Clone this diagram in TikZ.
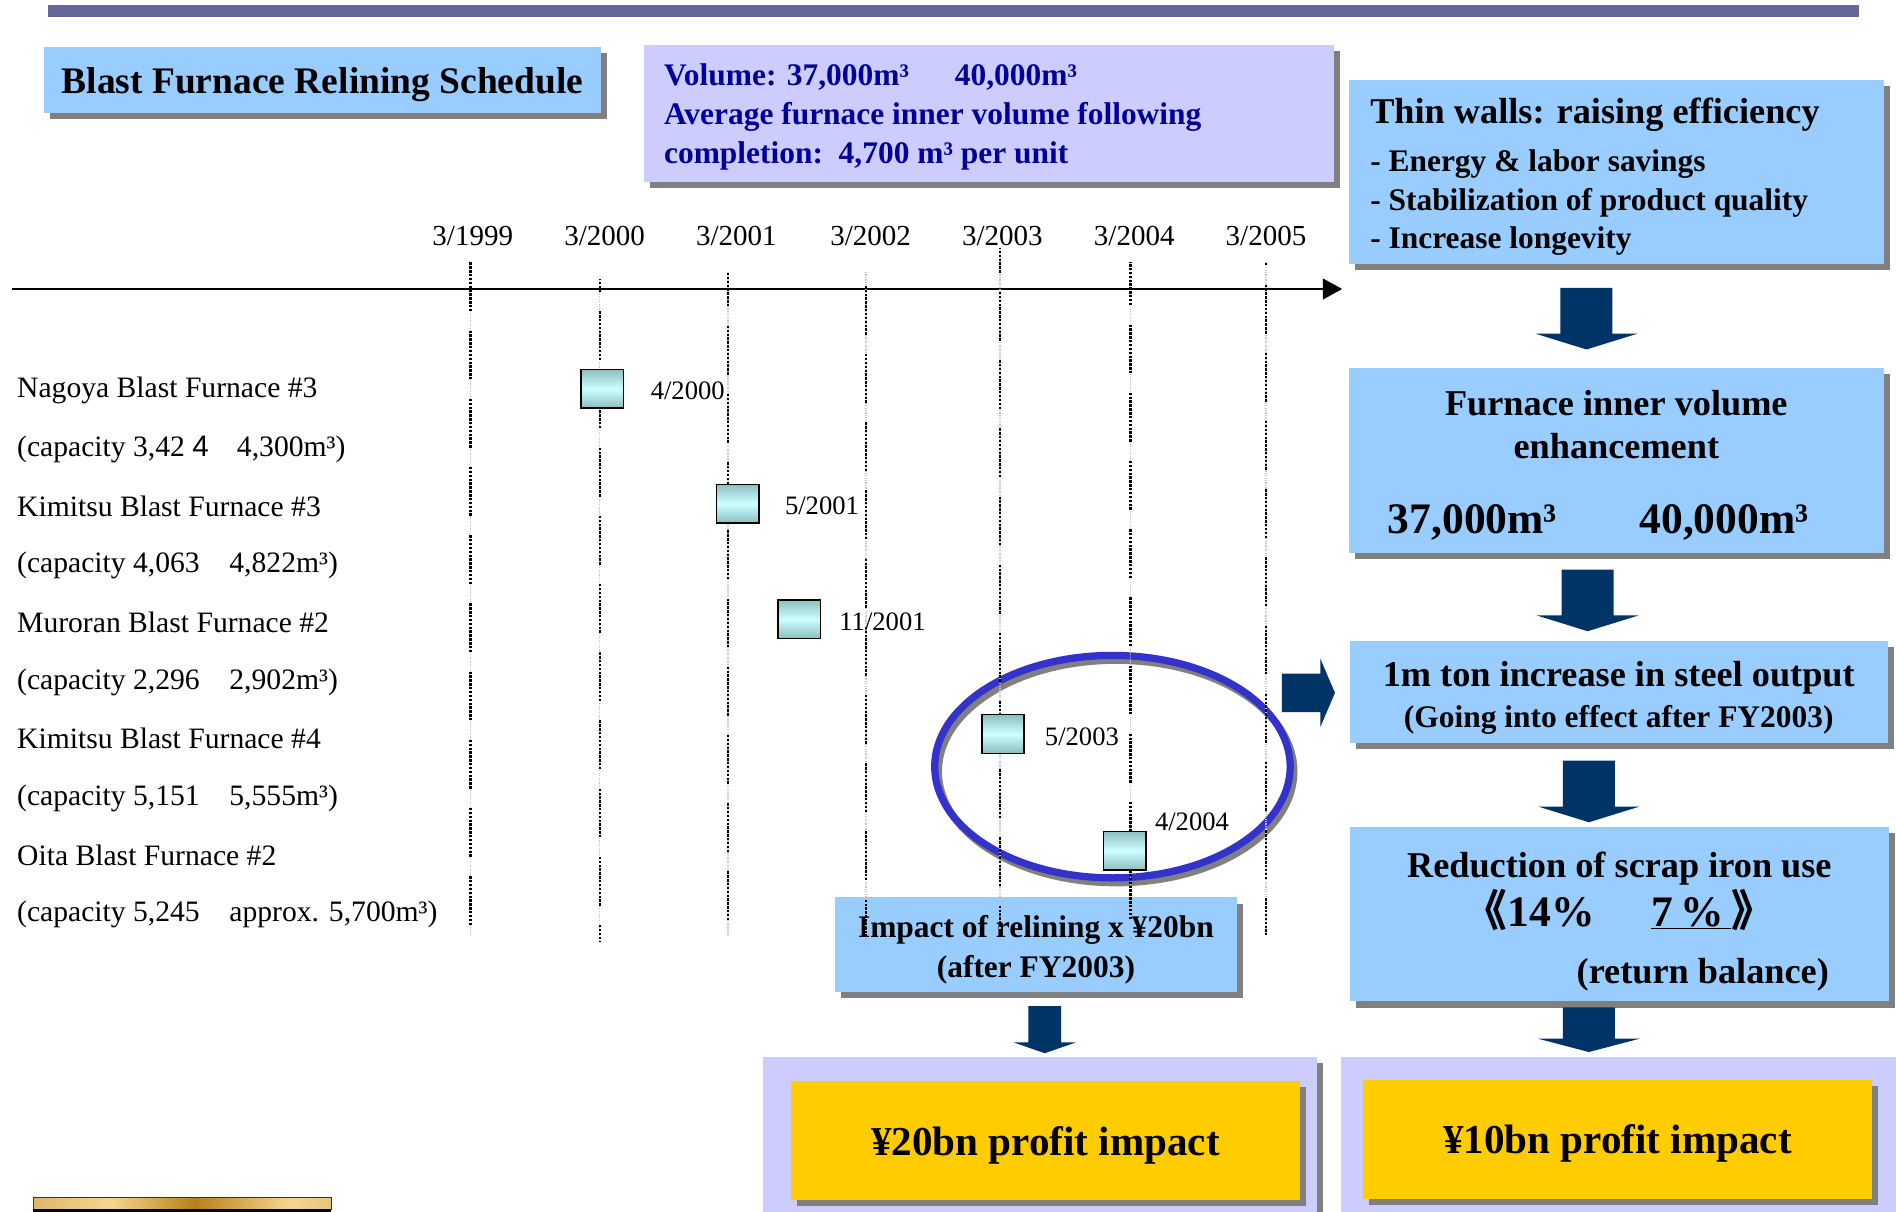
\documentclass[tikz,border=0pt]{standalone}
\usepackage{fontspec}
\setmainfont{Liberation Serif}
\newfontfamily\sansf{Liberation Sans}
\newfontfamily\cjkf{Noto Sans CJK SC}
\usetikzlibrary{shadows,arrows.meta}
\definecolor{lblue}{RGB}{153,204,255}
\definecolor{lav}{RGB}{204,204,255}
\definecolor{navyt}{RGB}{0,0,153}
\definecolor{navyar}{RGB}{0,51,102}
\definecolor{gold}{RGB}{255,204,0}
\definecolor{shadowg}{RGB}{128,128,128}
\definecolor{ringblue}{RGB}{51,51,204}
\definecolor{barc}{RGB}{102,102,153}
\definecolor{mkA}{RGB}{140,190,190}
\definecolor{mkB}{RGB}{204,255,255}
\definecolor{goldA}{RGB}{184,128,26}
\definecolor{goldB}{RGB}{214,170,90}
\definecolor{goldC}{RGB}{245,214,145}
\definecolor{goldD}{RGB}{70,50,10}
\pgfdeclarehorizontalshading{goldsh}{100bp}{color(0bp)=(goldA); color(20bp)=(goldB); color(38bp)=(goldC); color(52bp)=(goldA); color(68bp)=(goldC); color(85bp)=(goldB); color(100bp)=(goldA)}
\newcommand\fsz[2]{\fontsize{#1}{#2}\selectfont}
\newcommand\bkarrow[6]{\fill[navyar] (#1-#4,#2) -- (#1+#4,#2) -- (#1+#4,#3-#6) -- (#1+#5,#3-#6) -- (#1,#3) -- (#1-#5,#3-#6) -- (#1-#4,#3-#6) -- cycle;}
\tikzset{
 shad/.style={drop shadow={shadow xshift=5pt, shadow yshift=-5pt, opacity=1, fill=shadowg}},
 box/.style={rectangle, anchor=north west, inner sep=0pt, shad},
 tx/.style={inner sep=0pt, align=center},
 vgray/.style={gray!45, line width=1.2pt, dash pattern=on 1pt off 1pt},
 vline/.style={black, line width=2pt, dash pattern=on 2pt off 1.2pt on 2pt off 1.2pt on 2pt off 1.2pt on 2pt off 1.2pt on 2pt off 1.2pt on 2pt off 1.2pt on 2pt off 1.2pt on 2pt off 1.2pt on 2pt off 1.2pt on 2pt off 1.2pt on 2pt off 1.2pt on 2pt off 1.2pt on 2pt off 16pt},
 mk/.style={rectangle, draw=black, line width=1.3pt, minimum width=35pt, minimum height=32pt, inner sep=0pt, top color=mkA, bottom color=mkA, middle color=mkB},
 lst/.style={anchor=west, inner sep=0pt, font=\fsz{24.5}{29}},
 yr/.style={inner sep=0pt, font=\fsz{24}{28}},
 dt/.style={anchor=west, inner sep=0pt, font=\fsz{22}{26}},
}
\begin{document}
\begin{tikzpicture}[x=1pt,y=-1pt]
\useasboundingbox (0,0) rectangle (1568,1002);
\clip (0,0) rectangle (1568,1002);
\fill[white] (0,0) rectangle (1568,1002);
% top bar
\fill[barc] (40,4) rectangle (1537,14);
% header boxes
\node[box, fill=lblue, minimum width=461pt, minimum height=54pt] (title) at (36,39) {};
\node[tx, font=\fsz{31}{36}\bfseries] (titleT) at ([yshift=-4pt]title.center) {Blast Furnace Relining Schedule};
\node[box, fill=lav, minimum width=571pt, minimum height=113pt] (vol) at (532,37) {};
\node[tx, anchor=west, align=left, text=navyt, font=\fsz{26}{32.5}\bfseries] (volT) at ([xshift=17pt,yshift=-3pt]vol.west) {Volume: 37,000m³\hspace{1.46em}40,000m³\\Average furnace inner volume following\\completion:\ \ 4,700 m³ per unit};
\node[box, fill=lblue, minimum width=443pt, minimum height=152pt] (thin) at (1115,66) {};
\node[tx, anchor=west, align=left, font=\fsz{26}{32}\bfseries] (thinT) at ([xshift=18pt,yshift=-4pt]thin.west) {{\fsz{30}{32}Thin walls: raising efficiency}\\[8pt]- Energy \& labor savings\\- Stabilization of product quality\\- Increase longevity};
% year labels
\node[yr] (y1) at (391,195) {3/1999};
\node[yr] (y2) at (500,195) {3/2000};
\node[yr] (y3) at (609,195) {3/2001};
\node[yr] (y4) at (720,195) {3/2002};
\node[yr] (y5) at (829,195) {3/2003};
\node[yr] (y6) at (938,195) {3/2004};
\node[yr] (y7) at (1047,195) {3/2005};
% axis
\coordinate (axL) at (10,239);
\coordinate (axR) at (1110,239);
\draw[line width=2.2pt, -{Triangle[length=16pt,width=17pt]}] (axL) -- (axR);
% list
\node[lst] (l1) at (14,323) {Nagoya Blast Furnace \#3};
\node[lst] (l2) at (14,372) {(capacity 3,42 {\sansf 4}\hspace{0.95em}4,300m³)};
\node[lst] (l3) at (14,419) {Kimitsu Blast Furnace \#3};
\node[lst] (l4) at (14,468) {(capacity 4,063\hspace{1em}4,822m³)};
\node[lst] (l5) at (14,515) {Muroran Blast Furnace \#2};
\node[lst] (l6) at (14,564) {(capacity 2,296\hspace{1em}2,902m³)};
\node[lst] (l7) at (14,611) {Kimitsu Blast Furnace \#4};
\node[lst] (l8) at (14,660) {(capacity 5,151\hspace{1em}5,555m³)};
\node[lst] (l9) at (14,707) {Oita Blast Furnace \#2};
\node[lst] (l10) at (14,756) {(capacity 5,245\hspace{1em}approx. 5,700m³)};
% impact box
\node[box, fill=lblue, minimum width=333pt, minimum height=78pt] (imp) at (690,742) {};
\node[tx, font=\fsz{26}{33}\bfseries] (impT) at ([yshift=-4pt]imp.center) {Impact of relining x ¥20bn\\(after FY2003)};
% ellipse
\draw[shadowg, line width=6pt] (923,638) ellipse [x radius=147, y radius=92];
\draw[ringblue, line width=6pt] (920,634) ellipse [x radius=147, y radius=92];
% vertical lines
\foreach \i/\x/\ya/\yb/\ph in {1/389/217/775/0, 2/496/231/778/30, 3/602/225/775/12, 4/716/225/776/45, 5/827/205/770/20, 6/935/217/776/5, 7/1047/217/773/38} {
  \coordinate (vt\i) at (\x,\ya);
  \coordinate (vb\i) at (\x,\yb);
  \draw[vgray] (vt\i) -- (vb\i);
  \draw[vline, dash phase=\ph pt] (vt\i) -- (vb\i);
}
% markers
\node[mk] (m1) at (498,321.5) {};
\node[mk] (m2) at (610,416.5) {};
\node[mk] (m3) at (661,512) {};
\node[mk] (m4) at (829.5,607) {};
\node[mk] (m5) at (930,703.5) {};
\node[dt] (d1) at (538,323) {4/2000};
\node[dt] (d2) at (649,418) {5/2001};
\node[dt] (d3) at (694,514) {11/2001};
\node[dt] (d4) at (864,609) {5/2003};
\node[dt] (d5) at (955,680) {4/2004};
% right column boxes
\node[box, fill=lblue, minimum width=443pt, minimum height=153pt] (furn) at (1115,304) {};
\node[tx, font=\fsz{30}{36}\bfseries] (furnT) at ([yshift=-4pt]furn.center) {Furnace inner volume\\enhancement\\[26pt]{\fsz{36}{36}37,000m³\hspace{1.9em}40,000m³}\rule{30pt}{0pt}};
\node[box, fill=lblue, minimum width=445pt, minimum height=84pt] (ton) at (1116,530) {};
\node[tx, font=\fsz{30}{34}\bfseries] (tonT) at ([yshift=-5pt]ton.center) {1m ton increase in steel output\\{\fsz{26}{34}(Going into effect after FY2003)}};
\node[box, fill=lblue, minimum width=446pt, minimum height=144pt] (scrap) at (1116,684) {};
\node[tx, font=\fsz{30}{40}\bfseries] (scrapT) at ([yshift=-6pt]scrap.center) {Reduction of scrap iron use\\{\fsz{36}{40}{\cjkf 《}14\%\hspace{47pt}\underline{7\,\%\,}{\cjkf 》}}\\[7pt]\rule{138pt}{0pt}(return balance)};
% bottom boxes
\node[box, fill=lav, minimum width=458pt, minimum height=150pt] (out1) at (631,874) {};
\node[box, fill=lav, minimum width=470pt, minimum height=150pt] (out2) at (1109,874) {};
\node[box, fill=gold, minimum width=421pt, minimum height=98pt] (p20) at (654,894) {};
\node[tx, font=\fsz{34}{40}\bfseries] (p20T) at ([yshift=-4pt]p20.center) {¥20bn profit impact};
\node[box, fill=gold, minimum width=421pt, minimum height=98pt] (p10) at (1127,893) {};
\node[tx, font=\fsz{34}{40}\bfseries] (p10T) at ([yshift=-3pt]p10.center) {¥10bn profit impact};
% block arrows
\bkarrow{1312}{238}{289}{21.5}{42}{13}
\bkarrow{1313}{471}{522}{21.5}{42}{13}
\bkarrow{1314}{629}{680}{21.5}{42}{13}
\bkarrow{1314}{833}{870}{21.5}{42}{11}
\bkarrow{864}{832}{871}{13.5}{26}{9}
\fill[navyar] (1060,557) -- (1092,557) -- (1092,545) -- (1104,573) -- (1092,601) -- (1092,589) -- (1060,589) -- cycle;
% gold bar
\node[rectangle, anchor=north west, minimum width=247pt, minimum height=10pt, inner sep=0pt, shading=goldsh, draw=goldD, line width=0.8pt] (gbar) at (27,990) {};
\fill[black] (27,999.5) rectangle (274,1003);
\end{tikzpicture}
\end{document}
